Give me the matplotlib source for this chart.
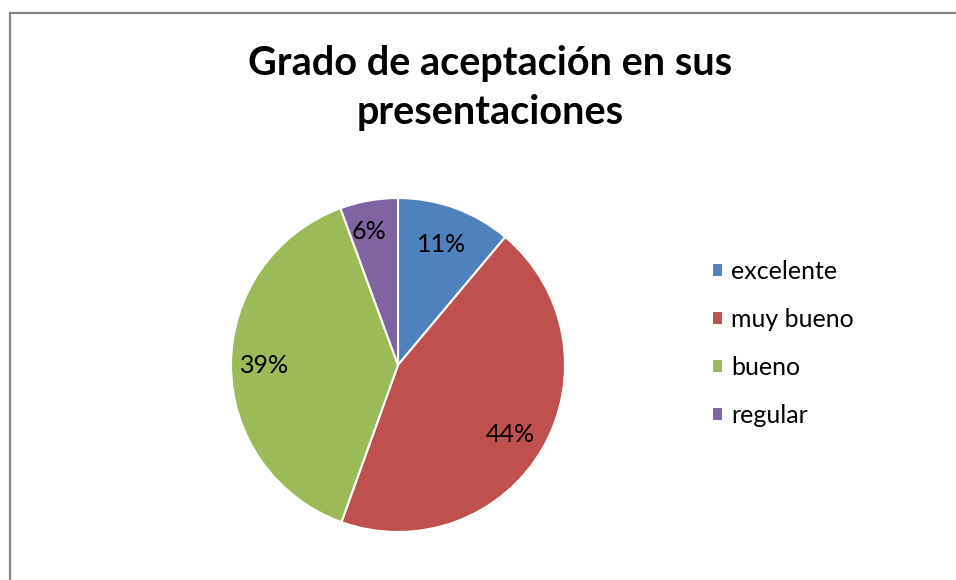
import numpy as np
import matplotlib.pyplot as plt
from matplotlib.patches import Rectangle

categories = ['excelente', 'muy bueno', 'bueno', 'regular']
values = [11.1, 44.4, 38.9, 5.6]
colors = ['#4F81BD', '#C0504D', '#9BBB59', '#8064A2']
title = 'Grado de aceptación en sus\npresentaciones'

plt.rcParams['font.family'] = ['Lato', 'DejaVu Sans']

W, H = 956, 580
fig = plt.figure(figsize=(W / 100, H / 100), dpi=100)

# chart area border
fig.patches.append(Rectangle((9.5 / W, -0.1), 1.2, 1 - 13.5 / H + 0.1,
                             transform=fig.transFigure, fill=False,
                             edgecolor='#868686', linewidth=1.6))

fig.text(490 / W, 1 - 88 / H, title, ha='center', va='center',
         fontsize=28.5, fontweight='bold', linespacing=1.38)

cx, cy, r = 398, 365, 167
ax = fig.add_axes([(cx - r) / W, (H - cy - r) / H, 2 * r / W, 2 * r / H])
wedges, texts, autotexts = ax.pie(
    values, colors=colors, startangle=90, counterclock=False,
    autopct='%.0f%%', pctdistance=0.78, radius=1,
    wedgeprops=dict(edgecolor='white', linewidth=1.5),
    textprops=dict(fontsize=18, color='black'))

# label distance from centre and angle shift, roughly as in the original
dists = [0.77, 0.79, 0.80, 0.82]
shifts = [0, -2, 0, 2]
for w, t, d, s in zip(wedges, autotexts, dists, shifts):
    ang = np.deg2rad((w.theta1 + w.theta2) / 2 + s)
    t.set_position((d * np.cos(ang), d * np.sin(ang)))

ax.set_xlim(-1, 1)
ax.set_ylim(-1, 1)
ax.set_aspect('equal')
ax.axis('off')

fig.legend(wedges, categories, loc='upper left',
           bbox_to_anchor=(712 / W, 1 - 260 / H), frameon=False,
           fontsize=18, handlelength=0.45, handleheight=0.45,
           handletextpad=0.32, labelspacing=1.0, borderaxespad=0,
           borderpad=0)

fig.savefig('out.png', dpi=100)
